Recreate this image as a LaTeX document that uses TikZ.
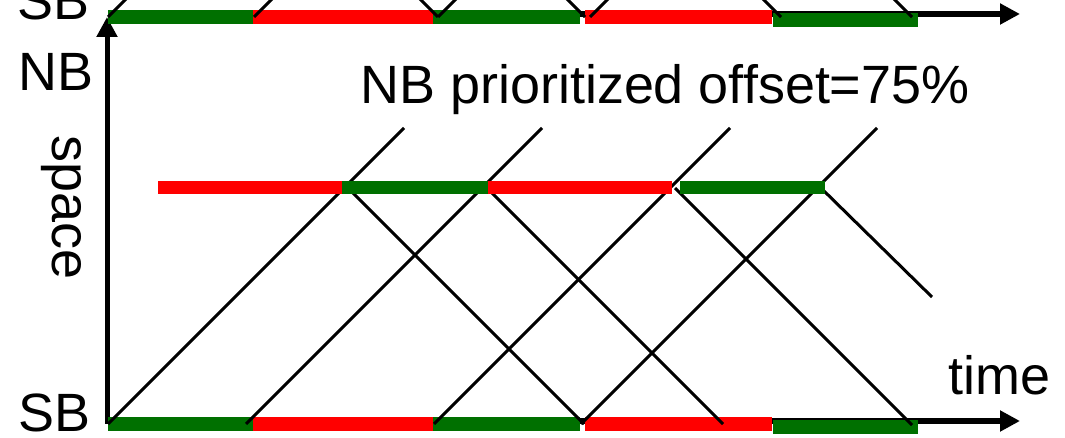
\documentclass[tikz,border=0pt]{standalone}
\usepackage{fontspec}
\setmainfont{Liberation Sans}
\usetikzlibrary{arrows.meta}

\definecolor{barred}{RGB}{255,0,0}
\definecolor{bargreen}{RGB}{0,112,0}

\tikzset{
    axisline/.style={black, line width=0.12cm, -{Triangle[length=0.4cm, width=0.4cm]}},
    wave/.style={black, line width=0.06cm},
    lbl/.style={inner sep=0pt, font=\fontsize{30.7}{36}\selectfont},
}

\begin{document}
\begin{tikzpicture}[x=0.02cm, y=-0.02cm]
        \useasboundingbox (0, 0) rectangle (1065, 438);
        \clip (0, 0) rectangle (1065, 438);

        % axes
        \coordinate (origin) at (107, 424);
        \coordinate (spacetip) at (107, 17);
        \coordinate (timestart) at (108, 421);
        \coordinate (timetip) at (1020, 421);
        \coordinate (prevstart) at (108, 14);
        \coordinate (prevtip) at (1020, 14);
        \draw[axisline, line width=0.1cm] (origin) -- (spacetip);
        \draw[axisline] (timestart) -- (timetip);
        \draw[axisline] (prevstart) -- (prevtip);

        % SB signal bands (this one and the one above)
        \foreach \y in {10, 417} {
            \foreach \xa/\xb/\col/\dy in {108/253/bargreen/0, 253/433/barred/0, 433/580/bargreen/0, 585/772/barred/0, 773/918/bargreen/3}
                \fill[\col] (\xa, {\y+\dy}) rectangle (\xb, {\y+\dy+14});
        }

        % NB-bound platoons leaving SB
        \foreach \x in {108, 246, 434, 581}
            \draw[wave] (\x, 424) -- ++(296, -296);

        % SB-bound platoons leaving NB
        \draw[wave] (347, 187) -- (584, 424);
        \draw[wave] (486, 187) -- (723, 424);
        \draw[wave] (675, 188) -- (912, 425);
        \draw[wave] (822, 189) -- (932, 297);

        % stubs of the diagram above
        \foreach \x in {108, 254, 438, 590}
            \draw[wave] (\x, 17) -- ++(20, -20);
        \foreach \x in {438, 585, 781, 912}
            \draw[wave] (\x, 17) -- ++(-20, -20);

        % NB signal band
        \foreach \xa/\xb/\col in {158/342/barred, 342/488/bargreen, 488/672/barred, 680/825/bargreen}
            \fill[\col] (\xa, 181) rectangle (\xb, 194);

        % labels
        \node[lbl, anchor = base west] (sbtop) at (17, 20) {SB};
        \node[lbl, anchor = base west] (nb) at (18, 91) {NB};
        \node[lbl, anchor = base west] (sbbot) at (18, 432) {SB};
        \node[lbl, anchor = base west, rotate=-90] (space) at (52, 135) {space};
        \node[lbl, anchor = base west] (time) at (948, 395) {time};
        \node[lbl, anchor = base west] (title) at (360, 104) {NB prioritized offset=75\%};
\end{tikzpicture}
\end{document}
